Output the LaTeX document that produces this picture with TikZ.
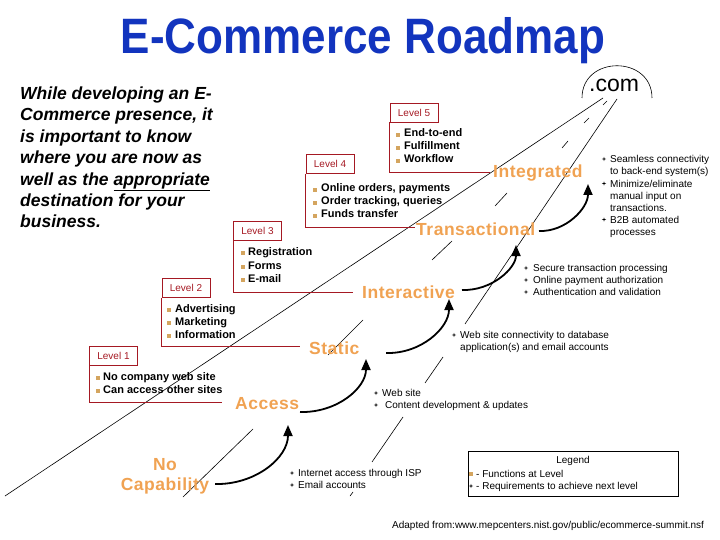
\documentclass[tikz,border=0pt]{standalone}
\usepackage{fontspec}
\setmainfont{Liberation Sans}
\newfontfamily\stagefont[LetterSpace=3]{Liberation Sans}
\usetikzlibrary{arrows.meta}
\definecolor{titleblue}{RGB}{18,52,190}
\definecolor{stageorange}{RGB}{240,162,82}
\definecolor{lvred}{RGB}{165,25,35}
\definecolor{bultan}{RGB}{212,165,95}
\begin{document}
\begin{tikzpicture}[x=1pt,y=-1pt,
  titlestyle/.style={font=\fontsize{44}{44}\selectfont\bfseries, text=titleblue, anchor=base, inner sep=0},
  intro/.style={font=\fontsize{17.5}{21}\selectfont\bfseries\itshape, anchor=base west, inner sep=0},
  lvbox/.style={draw=lvred, line width=0.9pt, text=lvred, font=\fontsize{10}{12}\selectfont, minimum width=48pt, minimum height=19pt, inner sep=0},
  lvline/.style={draw=lvred, line width=0.9pt},
  fn/.style={font=\fontsize{11}{13}\selectfont\bfseries, anchor=base west, inner sep=0},
  req/.style={font=\fontsize{10}{12}\selectfont, anchor=base west, inner sep=0},
  stage/.style={font=\stagefont\bfseries\fontsize{17.5}{20}\selectfont, text=stageorange, anchor=base west, inner sep=0},
  road/.style={line width=0.6pt},
  prog/.style={line width=1.8pt, -{Triangle[length=11pt,width=9pt]}},
  fb/.pic={\fill[bultan] (-1.6,-1.6) rectangle (1.6,1.6);},
  rb/.pic={\fill (-2.2,0) -- (-0.5,-0.5) -- (0,-2.2) -- (0.5,-0.5) -- (2.2,0) -- (0.5,0.5) -- (0,2.2) -- (-0.5,0.5) -- cycle;}
]
\useasboundingbox (0,0) rectangle (720,540);

% title
\node[titlestyle] (title) at (363,54) {\scalebox{1}[1.13]{E-Commerce Roadmap}};

% intro paragraph
\node[intro] (p1) at (20,99.5) {While developing an E-};
\node[intro] (p2) at (20,120.9) {Commerce presence, it};
\node[intro] (p3) at (20,142.3) {is important to know};
\node[intro] (p4) at (20,163.7) {where you are now as};
\node[intro] (p5) at (20,185.1) {well as the \underline{appropriate}};
\node[intro] (p6) at (20,206.5) {destination for your};
\node[intro] (p7) at (20,227.9) {business.};

% road lines
\draw[road] (5,496) -- (603,98);
\draw[road] (350,496) -- (353,492);
\draw[road] (372,462) -- (403,417);
\draw[road] (425,383) -- (443,357);
\draw[road] (465,324) -- (617,99);
% centre dashes
\draw[road] (183,497) -- (253,429);
\draw[road] (328,355) -- (363,320);
\draw[road] (432,260) -- (452,241);
\draw[road] (495,206) -- (507,193);
\draw[road] (562,148) -- (568,141);
\draw[road] (584,123) -- (589,118);
\draw[road] (603,105) -- (607,101);

% .com
\draw[road] (582,98) .. controls (582,55) and (652,55) .. (652,98);
\node[font=\fontsize{23}{23}\selectfont, anchor=base west, inner sep=0] (dotcom) at (589,92) {.com};

% levels
\node[lvbox] (lv1) at (113.5,356) {Level 1};
\coordinate (lv1end) at (222,402);
\draw[lvline] (lv1.south west) |- (lv1end);
\node[lvbox] (lv2) at (186,288) {Level 2};
\coordinate (lv2end) at (300,346);
\draw[lvline] (lv2.south west) |- (lv2end);
\node[lvbox] (lv3) at (257.5,230.5) {Level 3};
\coordinate (lv3end) at (353,292);
\draw[lvline] (lv3.south west) |- (lv3end);
\node[lvbox] (lv4) at (330,164) {Level 4};
\coordinate (lv4end) at (415,227);
\draw[lvline] (lv4.south west) |- (lv4end);
\node[lvbox] (lv5) at (414,112.5) {Level 5};
\coordinate (lv5end) at (490,172);
\draw[lvline] (lv5.south west) |- (lv5end);

% functions
\pic at (98,378) {fb}; \node[fn] (f11) at (103,380) {No company web site};
\pic at (98,391) {fb}; \node[fn] (f12) at (103,393) {Can access other sites};
\pic at (169,310) {fb}; \node[fn] (f21) at (175,312) {Advertising};
\pic at (169,323) {fb}; \node[fn] (f22) at (175,325) {Marketing};
\pic at (169,336) {fb}; \node[fn] (f23) at (175,338) {Information};
\pic at (243,253) {fb}; \node[fn] (f31) at (248,255) {Registration};
\pic at (243,267) {fb}; \node[fn] (f32) at (248,269) {Forms};
\pic at (243,280) {fb}; \node[fn] (f33) at (248,282) {E-mail};
\pic at (315,190) {fb}; \node[fn] (f41) at (321,192) {Online orders, payments};
\pic at (315,203) {fb}; \node[fn] (f42) at (321,205) {Order tracking, queries};
\pic at (315,216) {fb}; \node[fn] (f43) at (321,218) {Funds transfer};
\pic at (398,135) {fb}; \node[fn] (f51) at (404,137) {End-to-end};
\pic at (398,148) {fb}; \node[fn] (f52) at (404,150) {Fulfillment};
\pic at (398,161) {fb}; \node[fn] (f53) at (404,163) {Workflow};

% stages
\node[stage] (integrated) at (493,177.5) {Integrated};
\node[stage] (transactional) at (416,236) {Transactional};
\node[stage] (interactive) at (362,298.5) {Interactive};
\node[stage] (static) at (309,354.5) {Static};
\node[stage] (access) at (235,409.5) {Access};
\node[stage, anchor=base] (nocap1) at (165,470.5) {No};
\node[stage, anchor=base] (nocap2) at (165,490) {Capability};

% progress arrows
\coordinate (a1s) at (215,484); \coordinate (a1e) at (288,425);
\coordinate (a2s) at (300,412); \coordinate (a2e) at (366,359);
\coordinate (a3s) at (386,353); \coordinate (a3e) at (449,299);
\coordinate (a4s) at (462,290); \coordinate (a4e) at (516,245);
\coordinate (a5s) at (539,231); \coordinate (a5e) at (588,184);
\draw[prog] (a1s) .. controls (255,485) and (288,458) .. (a1e);
\draw[prog] (a2s) .. controls (337,413) and (366,388) .. (a2e);
\draw[prog] (a3s) .. controls (421,354) and (449,328) .. (a3e);
\draw[prog] (a4s) .. controls (492,291) and (516,268) .. (a4e);
\draw[prog] (a5s) .. controls (566,232) and (588,208) .. (a5e);

% requirements
\pic at (604,159) {rb}; \node[req] (r51) at (610,162.6) {Seamless connectivity};
\node[req] (r52) at (610,174.6) {to back-end system(s)};
\pic at (604,183.5) {rb}; \node[req] (r53) at (610,187.1) {Minimize/eliminate};
\node[req] (r54) at (610,199.1) {manual input on};
\node[req] (r55) at (610,211.1) {transactions.};
\pic at (604,219.5) {rb}; \node[req] (r56) at (610,223.1) {B2B automated};
\node[req] (r57) at (610,235.1) {processes};

\pic at (526,268) {rb}; \node[req] (r41) at (533,271.6) {Secure transaction processing};
\pic at (526,280) {rb}; \node[req] (r42) at (533,283.6) {Online payment authorization};
\pic at (526,292) {rb}; \node[req] (r43) at (533,295.6) {Authentication and validation};

\pic at (454,335) {rb}; \node[req] (r31) at (460,338.6) {Web site connectivity to database};
\node[req] (r32) at (460,350.6) {application(s) and email accounts};

\pic at (376,393) {rb}; \node[req] (r21) at (382,396.6) {Web site};
\pic at (376,405) {rb}; \node[req] (r22) at (385,408.6) {Content development \& updates};

\pic at (292,473) {rb}; \node[req] (r11) at (298,476.6) {Internet access through ISP};
\pic at (292,485) {rb}; \node[req] (r12) at (298,488.6) {Email accounts};

% legend
\node[draw, line width=0.8pt, minimum width=210pt, minimum height=45pt, inner sep=0] (legend) at (573,473.5) {};
\node[req, anchor=base] (legtitle) at (573,463.5) {Legend};
\pic at (471,474) {fb}; \node[req] (leg1) at (476,477.6) {- Functions at Level};
\pic at (471,486) {rb}; \node[req] (leg2) at (476,489.6) {- Requirements to achieve next level};

% footer
\node[req] (footer) at (392,528.5) {Adapted from:www.mepcenters.nist.gov/public/ecommerce-summit.nsf};
\end{tikzpicture}
\end{document}
